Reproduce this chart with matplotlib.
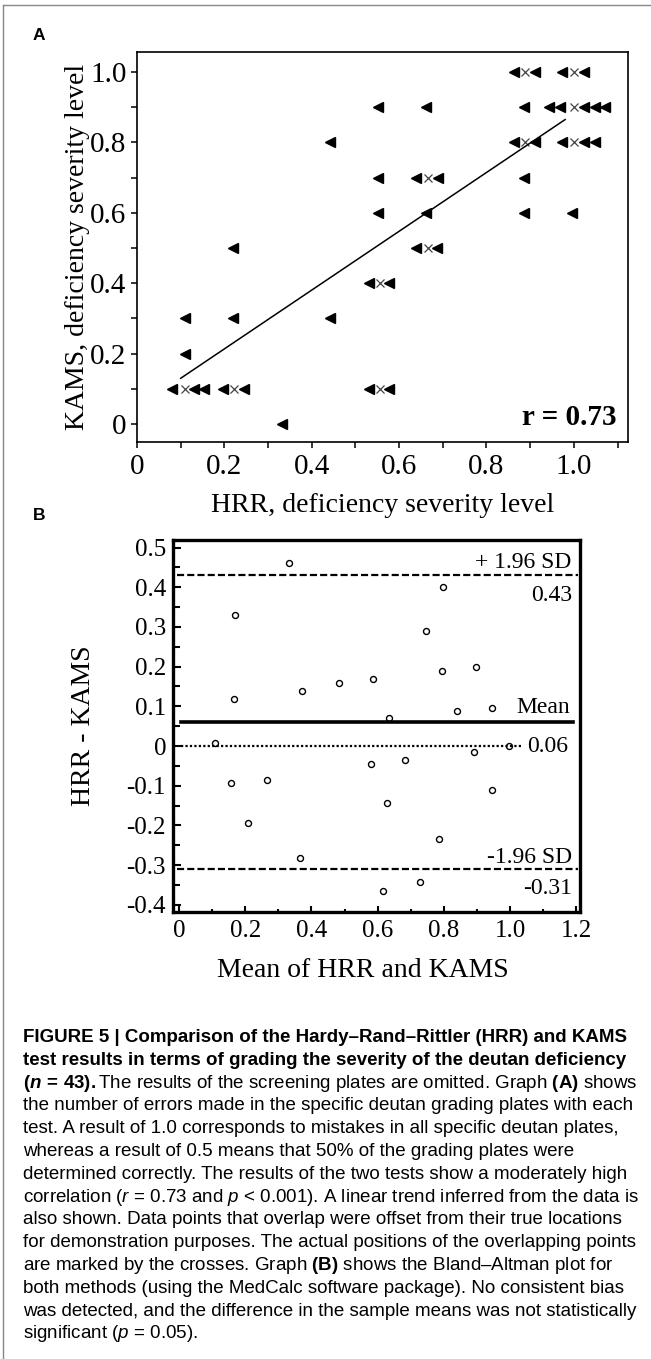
import numpy as np
import matplotlib
matplotlib.use('Agg')
import matplotlib.pyplot as plt
from matplotlib.ticker import MultipleLocator, FuncFormatter
from matplotlib.lines import Line2D

plt.rcParams['font.family'] = 'Liberation Serif'
plt.rcParams['mathtext.fontset'] = 'custom'
plt.rcParams['mathtext.rm'] = 'Liberation Sans'
plt.rcParams['mathtext.it'] = 'Liberation Sans:italic'
plt.rcParams['mathtext.bf'] = 'Liberation Sans:bold'
plt.rcParams['mathtext.bfit'] = 'Liberation Sans:italic:bold'

# --- panel A: HRR vs KAMS (points drawn at their offset positions)
hrr = [0.864, 0.911, 0.973, 1.024,
       0.552, 0.662, 0.885, 0.944, 0.968, 1.024, 1.048, 1.072,
       0.441, 0.864, 0.911, 0.973, 1.024, 1.048,
       0.552, 0.638, 0.690, 0.885,
       0.552, 0.662, 0.885, 0.996,
       0.219, 0.638, 0.687,
       0.530, 0.577,
       0.111, 0.219, 0.441,
       0.111,
       0.081, 0.130, 0.153, 0.196, 0.244, 0.530, 0.577,
       0.331]
kams = [1.0] * 4 + [0.9] * 8 + [0.8] * 6 + [0.7] * 4 + [0.6] * 4 + [0.5] * 3 \
    + [0.4] * 2 + [0.3] * 3 + [0.2] + [0.1] * 7 + [0.0]
# true positions of the overlapping points (crosses)
hrr_true = [0.889, 1.0, 1.0, 0.889, 1.0, 0.667, 0.667, 0.556, 0.111, 0.222, 0.556]
kams_true = [1.0, 1.0, 0.9, 0.8, 0.8, 0.7, 0.5, 0.4, 0.1, 0.1, 0.1]
trend_x = [0.10, 0.98]
trend_y = [0.13, 0.865]
r_value = 0.73

# --- panel B: Bland-Altman
ba_mean = [0.333, 0.798, 0.170, 0.745, 0.795, 0.898, 0.165, 0.373, 0.482,
           0.586, 0.841, 0.944, 0.634, 0.109, 0.996, 0.581, 0.684, 0.892,
           0.158, 0.265, 0.944, 0.627, 0.209, 0.785, 0.364, 0.729, 0.617]
ba_diff = [0.46, 0.40, 0.33, 0.29, 0.19, 0.20, 0.118, 0.139, 0.158,
           0.17, 0.088, 0.097, 0.071, 0.007, 0.0, -0.044, -0.034, -0.015,
           -0.093, -0.086, -0.111, -0.143, -0.193, -0.233, -0.283, -0.343, -0.364]
bias = 0.06
loa_upper = 0.43
loa_lower = -0.31

caption = [
    "FIGURE 5 | Comparison of the Hardy–Rand–Rittler (HRR) and KAMS",
    "test results in terms of grading the severity of the deutan deficiency",
    r"$\mathbf{(}\mathbfit{n}\mathbf{\,=\,43).}$The results of the screening plates are omitted. Graph $\mathbf{(A)}$ shows",
    "the number of errors made in the specific deutan grading plates with each",
    "test. A result of 1.0 corresponds to mistakes in all specific deutan plates,",
    "whereas a result of 0.5 means that 50% of the grading plates were",
    "determined correctly. The results of the two tests show a moderately high",
    r"correlation ($r$ = 0.73 and $p$ < 0.001). A linear trend inferred from the data is",
    "also shown. Data points that overlap were offset from their true locations",
    "for demonstration purposes. The actual positions of the overlapping points",
    r"are marked by the crosses. Graph $\mathbf{(B)}$ shows the Bland–Altman plot for",
    "both methods (using the MedCalc software package). No consistent bias",
    "was detected, and the difference in the sample means was not statistically",
    r"significant ($p$ = 0.05).",
]


def fmt(v, pos):
    return '0' if abs(v) < 1e-9 else f'{v:.1f}'


W, H = 651, 1359
fig = plt.figure(figsize=(W / 100, H / 100), dpi=100)

# ---------------- panel A
axA = fig.add_axes([137 / W, 1 - 442 / H, 491 / W, 390 / H])
axA.plot(hrr, kams, ls='none', marker='<', ms=7.5, color='black')
axA.plot(hrr_true, kams_true, ls='none', marker='x', ms=6, mew=0.9, color='#444444')
axA.plot(trend_x, trend_y, color='black', lw=1.1)
axA.set_xlim(0, 1.124)
axA.set_ylim(-0.051, 1.057)
axA.xaxis.set_major_locator(MultipleLocator(0.2))
axA.xaxis.set_minor_locator(MultipleLocator(0.1))
axA.yaxis.set_major_locator(MultipleLocator(0.2))
axA.yaxis.set_minor_locator(MultipleLocator(0.1))
axA.xaxis.set_major_formatter(FuncFormatter(fmt))
axA.yaxis.set_major_formatter(FuncFormatter(fmt))
axA.tick_params(which='both', direction='out', length=4.5, width=1.1, labelsize=21)
axA.tick_params(axis='x', pad=4)
axA.tick_params(axis='y', pad=3)
for s in axA.spines.values():
    s.set_linewidth(1.2)
axA.set_xlabel('HRR, deficiency severity level', fontsize=20, va='center')
axA.xaxis.set_label_coords(0.5, -0.162)
axA.set_ylabel('KAMS, deficiency severity level', fontsize=20, va='center')
axA.yaxis.set_label_coords(-0.122, 0.5)
axA.text(0.976, 0.062, f'r = {r_value:.2f}', transform=axA.transAxes,
         ha='right', va='center', fontsize=21, fontweight='bold')

# ---------------- panel B
axB = fig.add_axes([173 / W, 1 - 912 / H, 407 / W, 372 / H])
axB.plot(ba_mean, ba_diff, ls='none', marker='o', ms=4.3, mfc='white',
         mec='black', mew=1.0)
axB.axhline(loa_upper, xmin=0.01, xmax=0.995, color='black', lw=1.6, ls=(0, (3.2, 1.4)))
axB.axhline(loa_lower, xmin=0.01, xmax=0.995, color='black', lw=1.6, ls=(0, (3.2, 1.4)))
axB.axhline(bias, xmin=0.02, xmax=0.983, color='black', lw=2.6)
axB.axhline(0, xmin=0.02, xmax=0.855, color='black', lw=1.6, ls=(0, (1, 1)))
axB.set_xlim(-0.018, 1.211)
axB.set_ylim(-0.418, 0.519)
axB.xaxis.set_major_locator(MultipleLocator(0.2))
axB.xaxis.set_minor_locator(MultipleLocator(0.1))
axB.yaxis.set_major_locator(MultipleLocator(0.1))
axB.yaxis.set_minor_locator(MultipleLocator(0.05))
axB.xaxis.set_major_formatter(FuncFormatter(fmt))
axB.yaxis.set_major_formatter(FuncFormatter(fmt))
axB.tick_params(which='both', direction='in', width=1.5, labelsize=18)
axB.tick_params(axis='x', which='major', length=4, pad=6)
axB.tick_params(axis='x', which='minor', length=2.5)
axB.tick_params(axis='y', which='major', length=6, pad=5)
axB.tick_params(axis='y', which='minor', length=5)
for s in axB.spines.values():
    s.set_linewidth(2.4)
axB.set_xlabel('Mean of HRR and KAMS', fontsize=20, va='center')
axB.xaxis.set_label_coords(0.467, -0.156)
axB.set_ylabel('HRR - KAMS', fontsize=20, va='center')
axB.yaxis.set_label_coords(-0.219, 0.5)

tb = axB.get_yaxis_transform()
axB.text(0.98, loa_upper + 0.033, '+ 1.96 SD', transform=tb, ha='right', va='center', fontsize=17)
axB.text(0.98, loa_upper - 0.05, f'{loa_upper:.2f}', transform=tb, ha='right', va='center', fontsize=17)
axB.text(0.975, bias + 0.038, 'Mean', transform=tb, ha='right', va='center', fontsize=17)
axB.text(0.972, 0.0, f'{bias:.2f}', transform=tb, ha='right', va='center', fontsize=17)
axB.text(0.98, loa_lower + 0.03, '-1.96 SD', transform=tb, ha='right', va='center', fontsize=17)
axB.text(0.98, loa_lower - 0.05, f'{loa_lower:.2f}', transform=tb, ha='right', va='center', fontsize=17)

# panel letters
fig.text(33 / W, 1 - 35 / H, 'A', family='Liberation Sans', fontweight='bold',
         fontsize=12.5, va='center')
fig.text(33 / W, 1 - 515 / H, 'B', family='Liberation Sans', fontweight='bold',
         fontsize=12.5, va='center')

# caption
for i, line in enumerate(caption):
    y = 1 - (1042 + i * 22.8) / H
    fig.text(23 / W, y, line, family='Liberation Sans', fontsize=13.5,
             fontweight='bold' if i < 2 else 'normal', va='baseline')

# outer frame (top and left)
fig.add_artist(Line2D([3 / W, 1], [1 - 5 / H, 1 - 5 / H], transform=fig.transFigure,
                      color='#888888', lw=1))
fig.add_artist(Line2D([3 / W, 3 / W], [0, 1 - 5 / H], transform=fig.transFigure,
                      color='#888888', lw=1))

fig.savefig('out.png', dpi=100)
